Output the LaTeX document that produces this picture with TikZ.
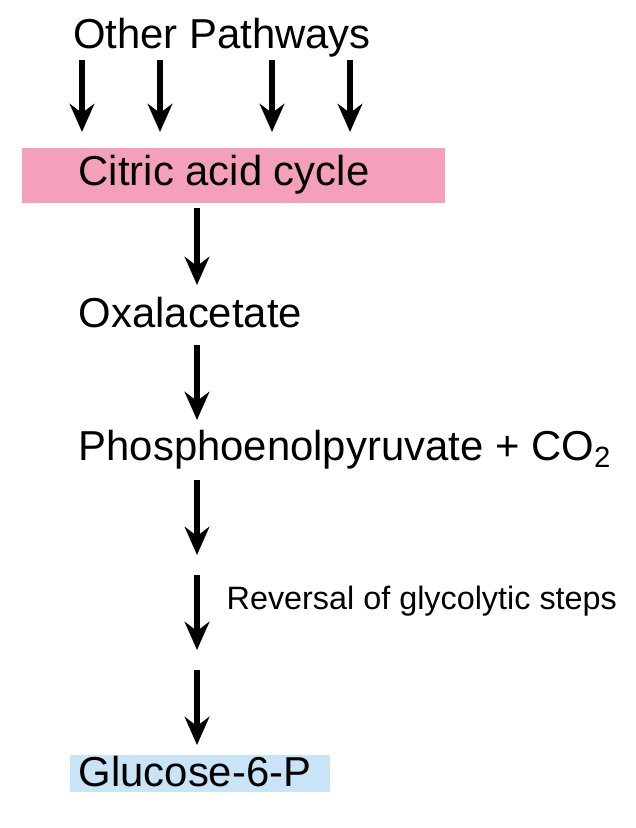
\documentclass[tikz,border=0pt]{standalone}
\usepackage{fontspec}
\setmainfont{Liberation Sans}
\usetikzlibrary{arrows.meta}
\definecolor{cycpink}{RGB}{244,160,186}
\definecolor{glcblue}{RGB}{200,228,246}
\tikzset{
  lbl/.style={anchor=west, inner sep=0pt, font=\fontsize{11.9}{14}\selectfont},
  flow/.style={line width=1.5pt, -{Stealth[length=8pt,width=7pt]}}
}
\begin{document}
\begin{tikzpicture}[x=0.01cm, y=-0.01cm]
  \useasboundingbox (0,0) rectangle (635,828);
  \fill[cycpink] (22,148) rectangle (445,203);
  \fill[glcblue] (70,755) rectangle (330,792);
  \node[lbl, anchor=center] (other) at (222,38) {Other Pathways};
  \node[lbl] (cac) at (78,175) {Citric acid cycle};
  \node[lbl] (oaa) at (78,313) {Oxalacetate};
  \node[lbl] (pep) at (78,450) {Phosphoenolpyruvate + CO\textsubscript{2}};
  \node[lbl] (g6p) at (78,772) {Glucose-6-P};
  \node[lbl, font=\fontsize{9.2}{11}\selectfont] (rev) at (226,601) {Reversal of glycolytic steps};
  % arrows from other pathways
  \foreach \x in {82,160,272,350}
    \draw[flow] (\x,60) coordinate (o\x) -- (\x,132) coordinate (i\x);
  % main chain
  \foreach \a/\b in {208/285, 345/420, 480/555, 575/650, 670/745}
    \draw[flow] (197,\a) coordinate (s\a) -- (197,\b) coordinate (e\a);
\end{tikzpicture}
\end{document}
